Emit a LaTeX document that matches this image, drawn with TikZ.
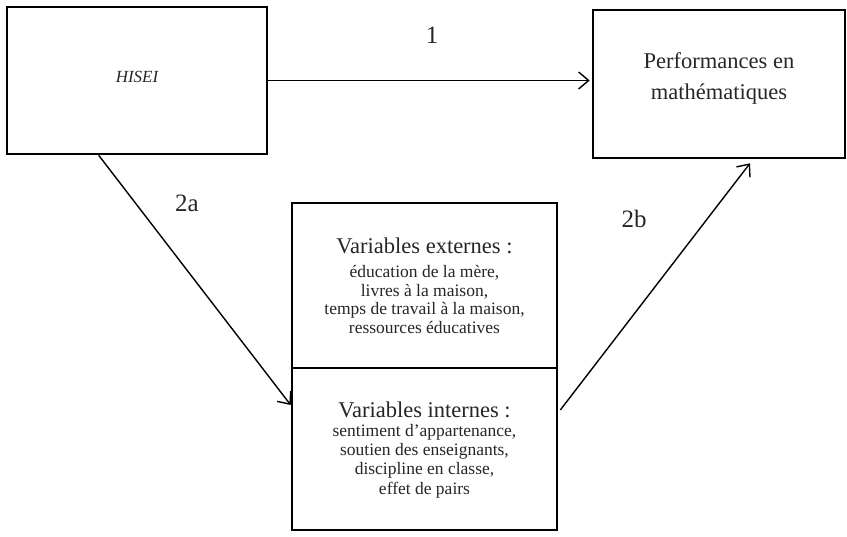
\documentclass[tikz,border=0pt]{standalone}
\usepackage{fontspec}
\setmainfont{Liberation Serif}
\usetikzlibrary{arrows.meta}
\tikzset{
  box/.style={draw=black, line width=2.6pt, inner sep=0pt, anchor=center},
  txt/.style={inner sep=0pt, align=center, text=black!85},
  conn/.style={line width=1.4pt, -{Straight Barb[length=10pt,width=17pt,line width=1.4pt]}},
  lbl/.style={inner sep=0pt, font=\fontsize{25}{27}\selectfont, text=black!85},
}
\begin{document}
\begin{tikzpicture}[x=1pt,y=-1pt]
\useasboundingbox (0,0) rectangle (847,537);
% boxes
\node[box, minimum width=260pt, minimum height=147pt] (hisei) at (137,80.5) {};
\node[box, minimum width=252pt, minimum height=148pt] (perf) at (719,84) {};
\node[box, minimum width=265pt, minimum height=165pt] (ext) at (424.5,285.5) {};
\node[box, minimum width=265pt, minimum height=162pt] (int) at (424.5,449) {};
% texts
\node[txt, font=\fontsize{17}{19}\selectfont\itshape] (thisei) at (137,77) {HISEI};
\node[txt, font=\fontsize{22.5}{31}\selectfont] (tperf) at (719,78) {Performances en\\mathématiques};
\node[txt, font=\fontsize{22.5}{24}\selectfont] (hext) at (424.5,246) {Variables externes :};
\node[txt, font=\fontsize{17.5}{18.5}\selectfont] (bext) at (424.5,299.5) {éducation de la mère,\\livres à la maison,\\temps de travail à la maison,\\ressources éducatives};
\node[txt, font=\fontsize{22.5}{24}\selectfont] (hint) at (424.5,410) {Variables internes :};
\node[txt, font=\fontsize{17.5}{19.3}\selectfont] (bint) at (424.5,461) {sentiment d’appartenance,\\soutien des enseignants,\\discipline en classe,\\effet de pairs};
% connectors
\coordinate (a2s) at ([xshift=93pt]hisei.south west);
\coordinate (a2e) at ([yshift=44pt]int.west);
\coordinate (b2s) at ([xshift=2pt,yshift=39pt]int.east);
\coordinate (b2e) at ([xshift=31pt,yshift=-4pt]perf.south);
\draw[conn, shorten >=2pt] (hisei.east) -- (perf.west |- hisei.east);
\draw[conn] (a2s) -- (a2e);
\draw[conn] (b2s) -- (b2e);
% labels
\node[lbl] (l1) at (432,35) {1};
\node[lbl] (l2a) at (187,203) {2a};
\node[lbl] (l2b) at (634,219) {2b};
\end{tikzpicture}
\end{document}
